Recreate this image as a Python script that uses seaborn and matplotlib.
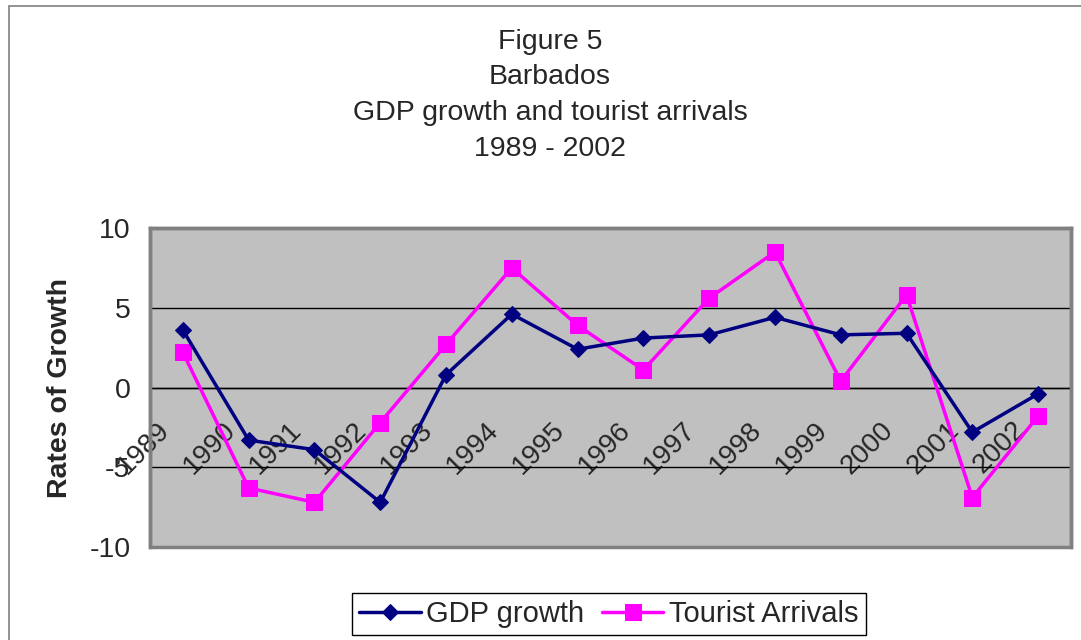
import numpy as np
import pandas as pd
import matplotlib
matplotlib.use("Agg")
import matplotlib.pyplot as plt
from matplotlib.patches import Rectangle
import seaborn as sns

years = ["1989", "1990", "1991", "1992", "1993", "1994", "1995",
         "1996", "1997", "1998", "1999", "2000", "2001", "2002"]
gdp_growth = [3.6, -3.3, -3.9, -7.2, 0.8, 4.6, 2.4, 3.1, 3.3, 4.4, 3.3, 3.4, -2.8, -0.4]
tourist_arrivals = [2.2, -6.3, -7.2, -2.2, 2.7, 7.5, 3.9, 1.1, 5.6, 8.5, 0.4, 5.8, -6.9, -1.8]
y_ticks = [-10, -5, 0, 5, 10]
title_lines = ["Figure 5", "Barbados", "GDP growth and tourist arrivals", "1989 - 2002"]

sns.set_style("white")
plt.rcParams["font.family"] = ["Liberation Sans", "DejaVu Sans"]

W, H = 1081, 640
fig = plt.figure(figsize=(W / 100, H / 100), dpi=100)
ax = fig.add_axes([150 / W, 1 - 547 / H, (1071 - 150) / W, (547 - 228) / H])
ax.set_facecolor("#C0C0C0")

pos = np.arange(len(years))
df = pd.DataFrame({"pos": pos, "gdp": gdp_growth, "tour": tourist_arrivals})

sns.lineplot(data=df, x="pos", y="gdp", ax=ax, color="#000080", marker="D",
             markersize=8.5, linewidth=2.5, markeredgecolor="#000080",
             label="GDP growth", zorder=4)
sns.lineplot(data=df, x="pos", y="tour", ax=ax, color="#FF00FF", marker="s",
             markersize=11.5, linewidth=2.5, markeredgecolor="#FF00FF",
             label="Tourist Arrivals", zorder=3)

ax.set_xlim(-0.5, len(years) - 0.5)
ax.set_ylim(-10, 10)
ax.set_yticks(y_ticks)
ax.set_yticklabels([str(v) for v in y_ticks], fontsize=20.5)
ax.yaxis.grid(True, color="black", linewidth=1)
ax.set_axisbelow(True)

# x axis crosses at zero
ax.spines["bottom"].set_position(("data", 0))
ax.spines["bottom"].set_color("black")
ax.spines["bottom"].set_linewidth(1)
for s in ["top", "right", "left"]:
    ax.spines[s].set_color("#808080")
    ax.spines[s].set_linewidth(2.5)

ax.set_xticks(pos - 0.4)
ax.set_xticklabels(years, fontsize=20, rotation=45, ha="right", va="top",
                   rotation_mode="anchor")
ax.tick_params(axis="x", which="major", length=0, pad=21)
ax.set_xticks(np.arange(-0.5, len(years), 1.0), minor=True)
ax.tick_params(axis="x", which="minor", length=8, width=1, color="black", direction="out")
ax.tick_params(axis="y", length=8, width=1, color="#404040", direction="out", pad=6)

ax.set_xlabel("")
ax.set_ylabel("Rates of Growth", fontsize=20.5, fontweight="bold", labelpad=12)

# plot-area border
ax.add_patch(Rectangle((0, 0), 1, 1, transform=ax.transAxes, fill=False,
                       edgecolor="#808080", linewidth=2.5, clip_on=False, zorder=5))

# title
for i, t in enumerate(title_lines):
    fig.text(550 / W, 1 - (42 + i * 35.5) / H, t, ha="center", va="center", fontsize=20.5)

# legend
handles, labels = ax.get_legend_handles_labels()
if ax.get_legend() is not None:
    ax.get_legend().remove()
leg = fig.legend(handles, labels, loc="center", bbox_to_anchor=(609 / W, 1 - 614 / H),
                 ncol=2, fontsize=21, frameon=True, fancybox=False, framealpha=1,
                 edgecolor="black", handlelength=2.1, handletextpad=0.2,
                 columnspacing=0.6, borderpad=0.25, borderaxespad=0)
leg.get_frame().set_linewidth(1)

# outer chart border
fig.add_artist(Rectangle((9 / W, -0.1), 1.2, 1.1 - 6 / H, transform=fig.transFigure,
                         fill=False, edgecolor="#808080", linewidth=1.2))

fig.savefig("out.png", dpi=100)
